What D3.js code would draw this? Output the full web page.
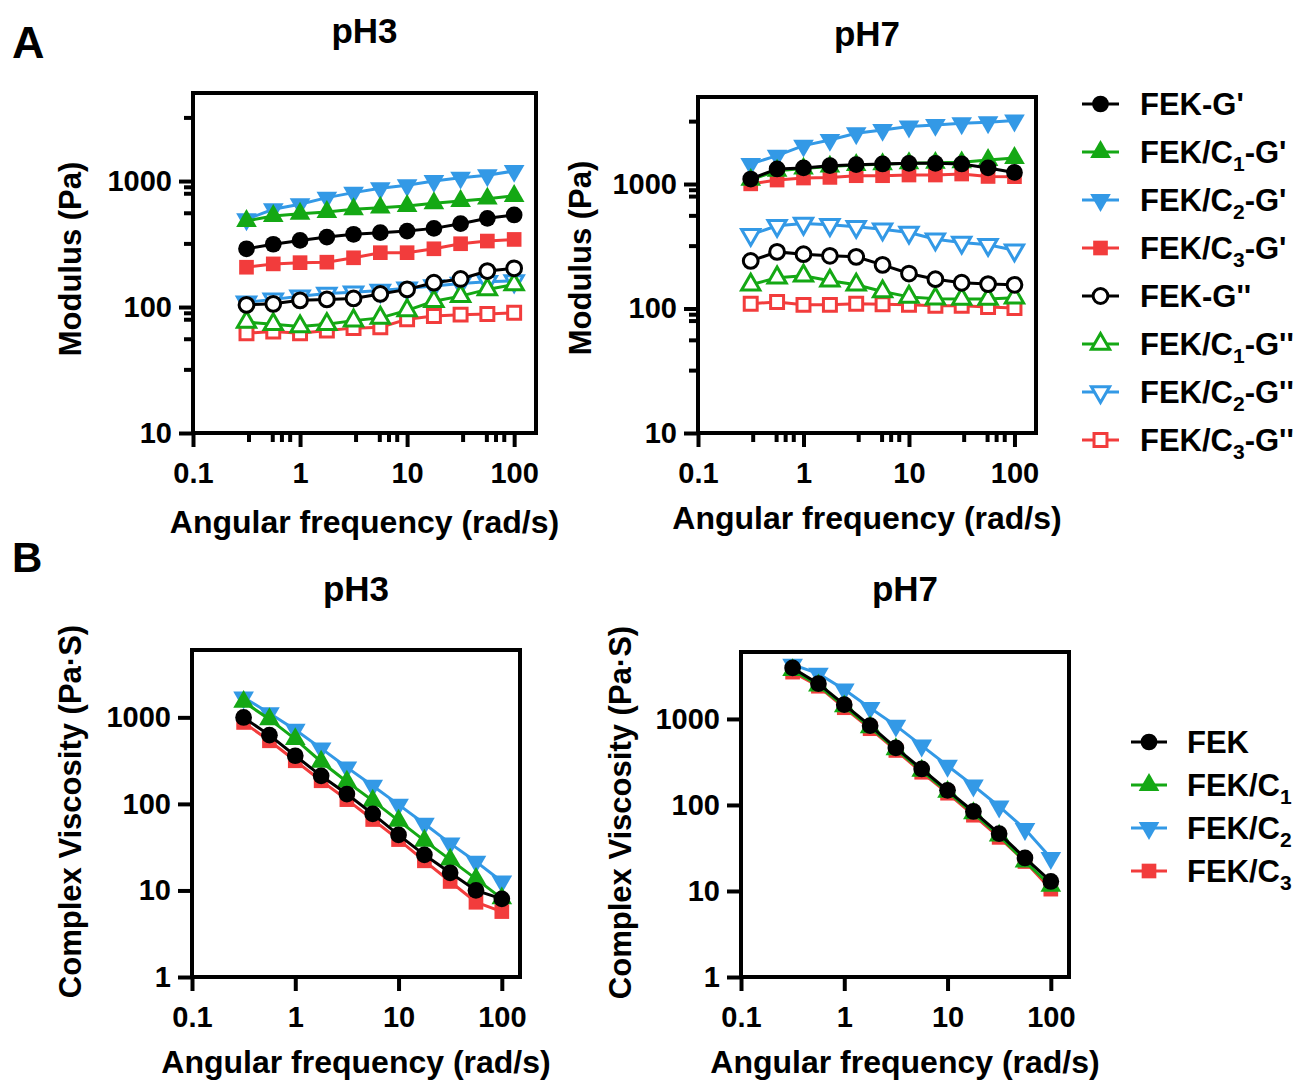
<!DOCTYPE html>
<html>
<head>
<meta charset="utf-8">
<script src="https://cdn.jsdelivr.net/npm/d3@7"></script>
<style>
  body { margin: 0; background: #fff; }
  svg text { font-family: "Liberation Sans", Arial, sans-serif; font-weight: bold; fill: #000; }
</style>
</head>
<body>
<div id="chart"></div>
<script>
// angular frequency (rad/s), shared by every curve
const freq = [0.316, 0.562, 1, 1.78, 3.16, 5.62, 10, 17.8, 31.6, 56.2, 100];

// A - storage / loss modulus (Pa), pH3
const a3_FEK_Gp   = [290, 315, 338, 359, 378, 389, 401, 421, 459, 506, 538];
const a3_C1_Gp    = [482, 528, 551, 568, 597, 615, 634, 666, 695, 725, 762];
const a3_C2_Gp    = [497, 597, 655, 739, 809, 877, 927, 1002, 1064, 1112, 1203];
const a3_C3_Gp    = [207, 220, 225, 227, 246, 270, 270, 290, 318, 334, 344];
const a3_FEK_Gpp  = [104, 106, 113, 115, 117, 127, 138, 156, 167, 193, 203];
const a3_C1_Gpp   = [76, 73, 70, 73, 78, 82, 94, 111, 122, 138, 151];
const a3_C2_Gpp   = [109, 115, 122, 128, 131, 135, 141, 147, 154, 159, 161];
const a3_C3_Gpp   = [62, 64, 62, 65, 68, 69, 80, 85, 87, 88, 90];

// A - pH7
const a7_FEK_Gp   = [1097, 1321, 1346, 1404, 1430, 1449, 1466, 1466, 1449, 1346, 1239];
const a7_C1_Gp    = [1080, 1280, 1330, 1380, 1420, 1440, 1470, 1480, 1493, 1560, 1618];
const a7_C2_Gp    = [1449, 1690, 2034, 2260, 2553, 2720, 2893, 2985, 3075, 3133, 3234];
const a7_C3_Gp    = [1003, 1076, 1117, 1130, 1166, 1166, 1181, 1181, 1203, 1150, 1145];
const a7_FEK_Gpp  = [241, 285, 273, 265, 260, 224, 191, 172, 161, 157, 155];
const a7_C1_Gpp   = [155, 177, 183, 167, 155, 137, 124, 120, 119, 119, 122];
const a7_C2_Gpp   = [391, 462, 481, 470, 453, 434, 408, 360, 339, 325, 294];
const a7_C3_Gpp   = [109, 113, 107, 107, 109, 108, 107, 105, 105, 103, 101];

// B - complex viscosity (Pa·S)
const b3_FEK = [997, 623, 360, 211, 130, 76.6, 43.8, 25.8, 16, 10, 8.0];
const b3_C1  = [1510, 953, 561, 307, 180, 109, 64, 37.6, 22.7, 13.6, 8.1];
const b3_C2  = [1697, 1118, 718, 438, 264, 162, 98, 59, 35, 21.5, 12.7];
const b3_C3  = [873, 536, 315, 185, 112, 66, 38.7, 22, 12.7, 7.3, 5.7];
const b7_FEK = [3918, 2572, 1466, 836, 460, 262, 148, 84, 46.4, 24.2, 12.9];
const b7_C1  = [3700, 2450, 1400, 800, 445, 250, 142, 80, 44, 22, 11.5];
const b7_C2  = [4280, 3365, 2195, 1343, 836, 490, 286, 168, 96, 52.6, 24.2];
const b7_C3  = [3500, 2400, 1350, 770, 430, 240, 137, 76, 42, 22, 10.5];

// legend labels: [main, subscript, suffix]
const labelsA = [["FEK-G'", "", ""], ["FEK/C", "1", "-G'"], ["FEK/C", "2", "-G'"], ["FEK/C", "3", "-G'"],
                 ["FEK-G''", "", ""], ["FEK/C", "1", "-G''"], ["FEK/C", "2", "-G''"], ["FEK/C", "3", "-G''"]];
const labelsB = [["FEK", "", ""], ["FEK/C", "1", ""], ["FEK/C", "2", ""], ["FEK/C", "3", ""]];

// ticks
const xTicks = [0.1, 1, 10, 100];
const yTicksA = [10, 100, 1000];
const yTicksB = [1, 10, 100, 1000];
const xMinorMult = [3.3, 5.5, 6.7, 8];
const yMinorMult = [3.2, 5.6, 8, 9];

const colors = ['#000000', '#14a814', '#3399e6', '#f23c3c'];
const shapes = ['circle', 'up', 'down', 'square'];

const seriesA3 = [a3_FEK_Gp, a3_C1_Gp, a3_C2_Gp, a3_C3_Gp, a3_FEK_Gpp, a3_C1_Gpp, a3_C2_Gpp, a3_C3_Gpp];
const seriesA7 = [a7_FEK_Gp, a7_C1_Gp, a7_C2_Gp, a7_C3_Gp, a7_FEK_Gpp, a7_C1_Gpp, a7_C2_Gpp, a7_C3_Gpp];
const seriesB3 = [b3_FEK, b3_C1, b3_C2, b3_C3];
const seriesB7 = [b7_FEK, b7_C1, b7_C2, b7_C3];

const svg = d3.select('#chart').append('svg')
  .attr('width', 1302)
  .attr('height', 1080);

function markerPath(shape, open) {
  const s = open ? 0.78 : 1;
  if (shape === 'circle') return d3.symbol().type(d3.symbolCircle).size(220 * s)();
  if (shape === 'square') return d3.symbol().type(d3.symbolSquare).size(215 * s)();
  return d3.symbol().type(d3.symbolTriangle).size(185 * s)();
}

function drawMarker(g, x, y, idx, open) {
  const shape = shapes[idx % 4];
  const c = colors[idx % 4];
  const rot = shape === 'down' ? 180 : 0;
  g.append('path')
    .attr('d', markerPath(shape, open))
    .attr('transform', `translate(${x},${y}) rotate(${rot})`)
    .attr('fill', open ? '#fff' : c)
    .attr('stroke', open ? c : 'none')
    .attr('stroke-width', open ? 3 : 0);
}

function minorValues(dom, mults) {
  const out = [];
  for (let d = Math.floor(Math.log10(dom[0])); d <= Math.ceil(Math.log10(dom[1])); d++) {
    mults.forEach(m => {
      const v = m * Math.pow(10, d);
      if (v > dom[0] && v < dom[1]) out.push(v);
    });
  }
  return out;
}

function drawPanel(p) {
  const x = d3.scaleLog().domain(p.xDom).range([p.l, p.r]);
  const y = d3.scaleLog().domain(p.yDom).range([p.b, p.t]);
  const g = svg.append('g');
  const fmt = d3.format('~g');

  const xAxis = d3.axisBottom(x).tickValues(xTicks).tickFormat(fmt).tickSize(14).tickPadding(15);
  const yAxis = d3.axisLeft(y).tickValues(p.yTicks).tickFormat(fmt).tickSize(14).tickPadding(7);

  const gx = g.append('g').attr('transform', `translate(0,${p.b})`).call(xAxis);
  const gy = g.append('g').attr('transform', `translate(${p.l},0)`).call(yAxis);
  [gx, gy].forEach(a => {
    a.select('.domain').remove();
    a.selectAll('line').attr('stroke', '#000').attr('stroke-width', 4);
    a.selectAll('text').style('font-size', '29px').attr('fill', '#000');
  });

  if (p.minor) {
    const gxm = g.append('g').attr('transform', `translate(0,${p.b})`)
      .call(d3.axisBottom(x).tickValues(minorValues(p.xDom, xMinorMult)).tickFormat('').tickSize(9));
    const gym = g.append('g').attr('transform', `translate(${p.l},0)`)
      .call(d3.axisLeft(y).tickValues(minorValues(p.yDom, yMinorMult)).tickFormat('').tickSize(9));
    [gxm, gym].forEach(a => {
      a.select('.domain').remove();
      a.selectAll('text').remove();
      a.selectAll('line').attr('stroke', '#000').attr('stroke-width', 4);
    });
  }

  g.append('rect')
    .attr('x', p.l).attr('y', p.t)
    .attr('width', p.r - p.l).attr('height', p.b - p.t)
    .attr('fill', 'none').attr('stroke', '#000').attr('stroke-width', 4);

  const line = d3.line().x((d, i) => x(freq[i])).y(d => y(d));
  // first data set ends up on top
  for (let k = p.series.length - 1; k >= 0; k--) {
    const vals = p.series[k];
    const open = k >= 4;
    const sg = g.append('g');
    sg.append('path')
      .attr('d', line(vals))
      .attr('fill', 'none')
      .attr('stroke', colors[k % 4])
      .attr('stroke-width', 3);
    vals.forEach((v, i) => drawMarker(sg, x(freq[i]), y(v), k, open));
  }

  g.append('text')
    .attr('x', (p.l + p.r) / 2).attr('y', p.titleY)
    .attr('text-anchor', 'middle')
    .style('font-size', '35px')
    .text(p.title);

  g.append('text')
    .attr('x', (p.l + p.r) / 2).attr('y', p.xLabY)
    .attr('text-anchor', 'middle')
    .style('font-size', '32px')
    .text('Angular frequency (rad/s)');

  g.append('text')
    .attr('transform', `translate(${p.yLabX},${(p.t + p.b) / 2 + p.yLabShift}) rotate(-90)`)
    .attr('text-anchor', 'middle')
    .style('font-size', '31px')
    .text(p.yLabel);
}

drawPanel({ series: seriesA3, title: 'pH3', l: 193, r: 536, t: 93, b: 433, xDom: [0.1, 160], yDom: [10, 5000],
  yTicks: yTicksA, minor: true, titleY: 43, xLabY: 533, yLabX: 81, yLabShift: -4, yLabel: 'Modulus (Pa)' });
drawPanel({ series: seriesA7, title: 'pH7', l: 698, r: 1036, t: 97, b: 433, xDom: [0.1, 160], yDom: [10, 5000],
  yTicks: yTicksA, minor: true, titleY: 46, xLabY: 529, yLabX: 591, yLabShift: -7, yLabel: 'Modulus (Pa)' });
drawPanel({ series: seriesB3, title: 'pH3', l: 192, r: 520, t: 650, b: 977, xDom: [0.1, 150], yDom: [1, 6000],
  yTicks: yTicksB, minor: false, titleY: 601, xLabY: 1073, yLabX: 81, yLabShift: -2, yLabel: 'Complex Viscosity (Pa·S)' });
drawPanel({ series: seriesB7, title: 'pH7', l: 741, r: 1069, t: 652, b: 977, xDom: [0.1, 150], yDom: [1, 6000],
  yTicks: yTicksB, minor: false, titleY: 601, xLabY: 1073, yLabX: 631, yLabShift: -2, yLabel: 'Complex Viscosity (Pa·S)' });

// panel letters
svg.append('text').attr('x', 12).attr('y', 58).style('font-size', '45px').text('A');
svg.append('text').attr('x', 12).attr('y', 572).style('font-size', '42px').text('B');

function drawLegend(labels, y0, step, lx1, lx2, tx) {
  const lg = svg.append('g');
  labels.forEach((lab, k) => {
    const yy = y0 + k * step;
    const open = k >= 4;
    lg.append('line').attr('x1', lx1).attr('x2', lx2).attr('y1', yy).attr('y2', yy)
      .attr('stroke', colors[k % 4]).attr('stroke-width', 3);
    drawMarker(lg, (lx1 + lx2) / 2, yy, k, open);
    const t = lg.append('text').attr('x', tx).attr('y', yy + 11).style('font-size', '31px');
    t.append('tspan').text(lab[0]);
    if (lab[1]) {
      t.append('tspan').attr('dy', 8).style('font-size', '21px').text(lab[1]);
    }
    if (lab[2]) {
      t.append('tspan').attr('dy', -8).text(lab[2]);
    }
  });
}

drawLegend(labelsA, 104, 48, 1082, 1119, 1140);
drawLegend(labelsB, 742, 43, 1131, 1167, 1187);
</script>
</body>
</html>
